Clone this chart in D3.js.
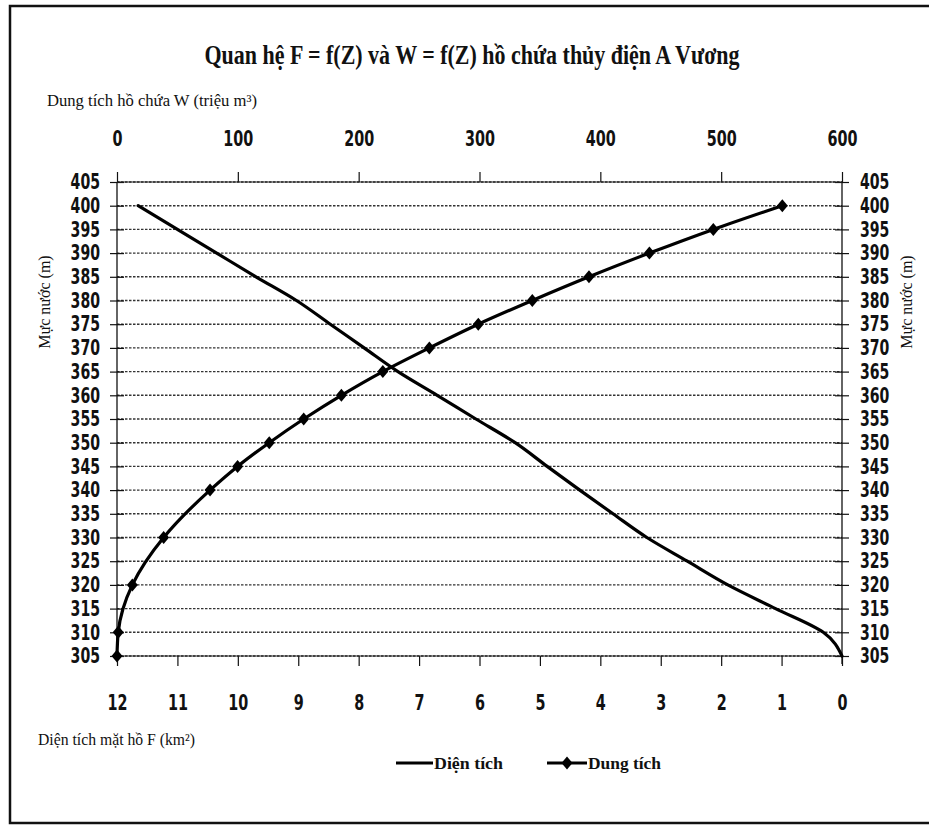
<!DOCTYPE html>
<html>
<head>
<meta charset="utf-8">
<script src="https://cdn.jsdelivr.net/npm/d3@7/dist/d3.min.js"></script>
<style>
  html, body { margin: 0; padding: 0; background: #fff; }
  svg { display: block; }
</style>
</head>
<body>
<svg id="chart" width="929" height="826"></svg>
<script>
// ---- Data ----
const zLevelsF = [305, 310, 315, 320, 325, 330, 335, 340, 345, 350, 355, 360, 365, 370, 375, 380, 385, 390, 395, 400];
const areaF    = [0, 0.31, 1.1, 1.89, 2.56, 3.23, 3.79, 4.34, 4.88, 5.41, 6.06, 6.7, 7.35, 7.91, 8.47, 9.03, 9.7, 10.35, 11.0, 11.65];

const zLevelsW = [305, 310, 320, 330, 340, 345, 350, 355, 360, 365, 370, 375, 380, 385, 390, 395, 400];
const volumeW  = [0, 1, 12.7, 38.6, 77, 99.8, 126, 154.5, 185.7, 220, 258.5, 299, 343.7, 390.6, 440.6, 493.5, 550.6];

const zTicks = [305, 310, 315, 320, 325, 330, 335, 340, 345, 350, 355, 360, 365, 370, 375, 380, 385, 390, 395, 400, 405];
const fTicks = [12, 11, 10, 9, 8, 7, 6, 5, 4, 3, 2, 1, 0];
const wTicks = [0, 100, 200, 300, 400, 500, 600];

const titleText = "Quan hệ F = f(Z) và W = f(Z) hồ chứa thủy điện A Vương";
const topAxisTitle = "Dung tích hồ chứa W (triệu m³)";
const bottomAxisTitle = "Diện tích mặt hồ F (km²)";
const zAxisTitle = "Mực nước (m)";
const legendNames = ["Diện tích", "Dung tích"];

// ---- Layout ----
const svg = d3.select("#chart");
const L = 117, R = 842, T = 182, B = 656;
const sansNarrow = "'Liberation Sans Narrow', 'DejaVu Sans Condensed', 'Liberation Sans', Arial, sans-serif";
const serif = "'Liberation Serif', 'DejaVu Serif', 'Times New Roman', serif";

svg.append("rect").attr("width", 929).attr("height", 826).attr("fill", "#fff");
svg.append("rect").attr("x", 10).attr("y", 6).attr("width", 940).attr("height", 817)
  .attr("fill", "none").attr("stroke", "#111").attr("stroke-width", 2.5);

const yZ = d3.scaleLinear().domain([305, 405]).range([B, T]);
const xF = d3.scaleLinear().domain([12, 0]).range([L, R]);
const xW = d3.scaleLinear().domain([0, 600]).range([L, R]);

// Gridlines
svg.append("g").selectAll("line").data(zTicks).join("line")
  .attr("x1", L).attr("x2", R)
  .attr("y1", d => yZ(d)).attr("y2", d => yZ(d))
  .attr("stroke", "#333").attr("stroke-width", 1.4)
  .attr("stroke-dasharray", "2.5,1.5");

function styleTicks(g, size, perChar) {
  g.select(".domain").remove();
  g.selectAll(".tick line").attr("stroke", "#111").attr("stroke-width", 1.2);
  g.selectAll("text").attr("font-family", sansNarrow).attr("font-size", size).attr("fill", "#111")
    .attr("font-weight", 600)
    .attr("textLength", function () { return this.textContent.length * perChar; })
    .attr("lengthAdjust", "spacingAndGlyphs");
}

// Left axis
const gL = svg.append("g").attr("transform", `translate(${L + 7},0)`)
  .call(d3.axisLeft(yZ).tickValues(zTicks).tickSize(14).tickPadding(10));
styleTicks(gL, 21, 9.8);

// Right axis
const gR = svg.append("g").attr("transform", `translate(${R - 7},0)`)
  .call(d3.axisRight(yZ).tickValues(zTicks).tickSize(14).tickPadding(11));
styleTicks(gR, 21, 9.8);

// Bottom axis (F)
const gB = svg.append("g").attr("transform", `translate(0,${B})`)
  .call(d3.axisBottom(xF).tickValues(fTicks).tickSize(10).tickFormat(d3.format("d")));
styleTicks(gB, 22, 10);
gB.selectAll("text").attr("y", 46).attr("dy", "0.35em");

// Top axis (W)
const gT = svg.append("g").attr("transform", `translate(0,${T})`)
  .call(d3.axisTop(xW).tickValues(wTicks).tickSize(10).tickFormat(d3.format("d")));
styleTicks(gT, 22, 10);
gT.selectAll("text").attr("y", -44).attr("dy", "0.35em");

// Axis lines
svg.append("line").attr("x1", L).attr("x2", L).attr("y1", T).attr("y2", B)
  .attr("stroke", "#111").attr("stroke-width", 1.3);
svg.append("line").attr("x1", R).attr("x2", R).attr("y1", T).attr("y2", B + 8)
  .attr("stroke", "#111").attr("stroke-width", 1.3);
svg.append("line").attr("x1", L).attr("x2", R).attr("y1", B).attr("y2", B)
  .attr("stroke", "#222").attr("stroke-width", 1);
svg.append("line").attr("x1", L).attr("x2", R).attr("y1", T).attr("y2", T)
  .attr("stroke", "#222").attr("stroke-width", 1);

// Series: Diện tích (sorted top-to-bottom on screen for monotone-Y smoothing)
const fData = zLevelsF.map((z, i) => ({ z, v: areaF[i] })).sort((a, b) => b.z - a.z);
svg.append("path").datum(fData)
  .attr("d", d3.line().x(d => xF(d.v)).y(d => yZ(d.z)).curve(d3.curveMonotoneY))
  .attr("fill", "none").attr("stroke", "#000").attr("stroke-width", 3.2)
  .attr("stroke-linejoin", "round").attr("stroke-linecap", "round");

// Series: Dung tích
const wData = zLevelsW.map((z, i) => ({ z, v: volumeW[i] })).sort((a, b) => b.z - a.z);
svg.append("path").datum(wData)
  .attr("d", d3.line().x(d => xW(d.v)).y(d => yZ(d.z)).curve(d3.curveMonotoneY))
  .attr("fill", "none").attr("stroke", "#000").attr("stroke-width", 3.2)
  .attr("stroke-linejoin", "round");
const diamond = "M0,-6.5L5.5,0L0,6.5L-5.5,0Z";
svg.append("g").selectAll("path").data(wData).join("path")
  .attr("transform", d => `translate(${xW(d.v)},${yZ(d.z)})`)
  .attr("d", diamond).attr("fill", "#000");

// Title
svg.append("text").attr("x", 472).attr("y", 64).attr("text-anchor", "middle")
  .attr("font-family", serif).attr("font-weight", "bold").attr("font-size", 27)
  .attr("textLength", 535).attr("lengthAdjust", "spacingAndGlyphs")
  .attr("fill", "#111").text(titleText);

// Axis titles
svg.append("text").attr("x", 47).attr("y", 106)
  .attr("font-family", serif).attr("font-size", 16)
  .attr("textLength", 210).attr("lengthAdjust", "spacingAndGlyphs")
  .attr("fill", "#111").text(topAxisTitle);
svg.append("text").attr("x", 38).attr("y", 745)
  .attr("font-family", serif).attr("font-size", 16)
  .attr("textLength", 157).attr("lengthAdjust", "spacingAndGlyphs")
  .attr("fill", "#111").text(bottomAxisTitle);
svg.append("text").attr("transform", "translate(50,302) rotate(-90)").attr("text-anchor", "middle")
  .attr("font-family", serif).attr("font-size", 16)
  .attr("fill", "#111").text(zAxisTitle);
svg.append("text").attr("transform", "translate(912,302) rotate(-90)").attr("text-anchor", "middle")
  .attr("font-family", serif).attr("font-size", 16)
  .attr("fill", "#111").text(zAxisTitle);

// Legend
const ly = 763;
svg.append("line").attr("x1", 396).attr("x2", 433).attr("y1", ly).attr("y2", ly)
  .attr("stroke", "#000").attr("stroke-width", 3.2);
svg.append("text").attr("x", 434).attr("y", ly + 6)
  .attr("font-family", serif).attr("font-weight", "bold").attr("font-size", 17)
  .attr("textLength", 69).attr("lengthAdjust", "spacingAndGlyphs")
  .attr("fill", "#111").text(legendNames[0]);
svg.append("line").attr("x1", 547).attr("x2", 587).attr("y1", ly).attr("y2", ly)
  .attr("stroke", "#000").attr("stroke-width", 3.2);
svg.append("path").attr("transform", `translate(567,${ly})`).attr("d", diamond).attr("fill", "#000");
svg.append("text").attr("x", 588).attr("y", ly + 6)
  .attr("font-family", serif).attr("font-weight", "bold").attr("font-size", 17)
  .attr("textLength", 73).attr("lengthAdjust", "spacingAndGlyphs")
  .attr("fill", "#111").text(legendNames[1]);
</script>
</body>
</html>
